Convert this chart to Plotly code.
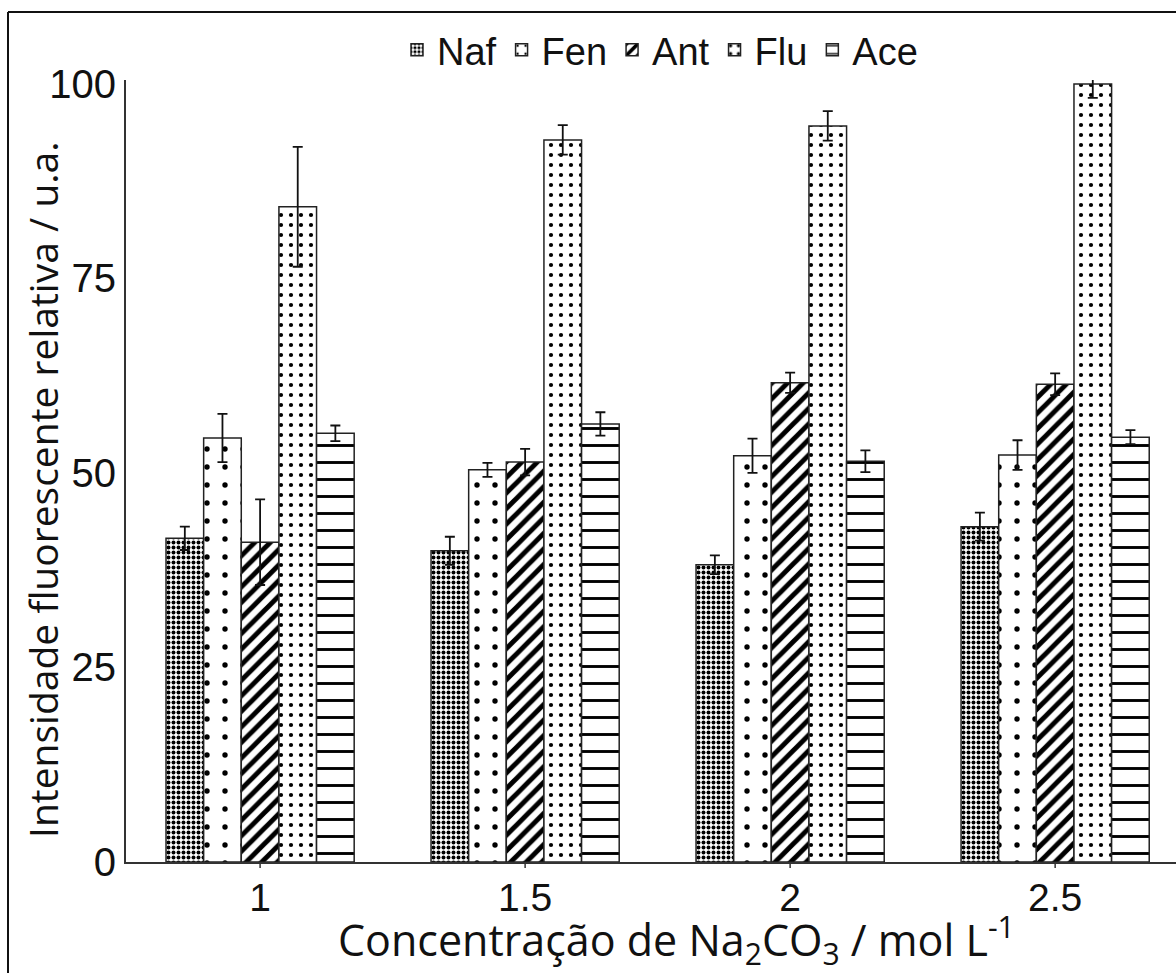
import plotly.graph_objects as go

concentracao = [1.0, 1.5, 2.0, 2.5]
tick_labels = ["1", "1.5", "2", "2.5"]
series_names = ["Naf", "Fen", "Ant", "Flu", "Ace"]

naf = [41.6, 40.0, 38.2, 43.1]
fen = [54.5, 50.4, 52.2, 52.3]
ant = [41.1, 51.4, 61.6, 61.4]
flu = [84.2, 92.8, 94.6, 100.0]
ace = [55.1, 56.3, 51.5, 54.6]

naf_err = [1.5, 1.8, 1.2, 1.8]
fen_err = [3.1, 0.9, 2.2, 1.9]
ant_err = [5.5, 1.7, 1.3, 1.4]
flu_err = [7.7, 1.9, 1.9, 1.8]
ace_err = [1.0, 1.5, 1.4, 0.9]

values = [naf, fen, ant, flu, ace]
errors = [naf_err, fen_err, ant_err, flu_err, ace_err]

patterns = [
    dict(shape=".", size=5, solidity=0.5),
    dict(shape=".", size=18, solidity=0.07),
    dict(shape="/", size=11, solidity=0.45),
    dict(shape=".", size=10, solidity=0.14),
    dict(shape="-", size=17, solidity=0.17),
]

fig = go.Figure()
for name, vals, errs, pat in zip(series_names, values, errors, patterns):
    pat = dict(pat, fgcolor="#000", bgcolor="white", fgopacity=1)
    fig.add_trace(go.Bar(
        x=concentracao, y=vals, name=name,
        marker=dict(color="white", pattern=pat,
                    line=dict(color="#222", width=1.5)),
        error_y=dict(type="data", array=errs, visible=True,
                     color="#111", thickness=1.8, width=5),
    ))

L, T, R, B = 126, 80, 0, 111
W, H = 1176, 973
pw, ph = W - L - R, H - T - B

def px_x(x):
    return (x - L) / pw

def px_y(y):
    return (H - B - y) / ph

shapes = [
    dict(type="line", xref="paper", yref="paper",
         x0=px_x(8), x1=px_x(8), y0=px_y(12), y1=px_y(973),
         line=dict(color="#111", width=2)),
    dict(type="line", xref="paper", yref="paper",
         x0=px_x(8), x1=1.0, y0=px_y(12), y1=px_y(12),
         line=dict(color="#111", width=2)),
]
# small outside tick marks at each category position
for c in concentracao:
    shapes.append(dict(type="line", xref="x", yref="paper",
                       x0=c, x1=c, y0=0, y1=-6 / ph,
                       line=dict(color="#333", width=1.5)))

fig.update_layout(
    width=W, height=H,
    margin=dict(l=L, r=R, t=T, b=B),
    paper_bgcolor="white", plot_bgcolor="white",
    barmode="group", bargap=0.29, bargroupgap=0,
    font=dict(family="Liberation Sans, Arial", color="#111"),
    legend=dict(orientation="h", x=px_x(660), xanchor="center",
                y=px_y(50), yanchor="middle",
                font=dict(size=38, family="Liberation Sans, Arial"),
                bgcolor="rgba(0,0,0,0)", itemwidth=30,
                tracegroupgap=0),
    showlegend=True,
    shapes=shapes,
    annotations=[
        dict(text="Concentração de Na<sub>2</sub>CO<sub>3</sub> / mol L<sup>-1</sup>",
             xref="paper", yref="paper", x=px_x(676), y=px_y(940),
             xanchor="center", yanchor="middle", showarrow=False,
             font=dict(size=43, family="Open Sans", color="#111")),
        dict(text="Intensidade fluorescente relativa / u.a.",
             xref="paper", yref="paper", x=px_x(42), y=px_y(490),
             xanchor="center", yanchor="middle", showarrow=False, textangle=-90,
             font=dict(size=39, family="Open Sans", color="#111")),
    ],
)

fig.update_xaxes(
    range=[0.747, 2.728], tickvals=concentracao, ticktext=tick_labels,
    showline=True, linecolor="#333", linewidth=2,
    ticks="", ticklen=0,
    showgrid=False, zeroline=False,
    tickfont=dict(size=39, family="Liberation Sans, Arial", color="#111"),
)
fig.update_yaxes(
    range=[0, 100.5], tickvals=[0, 25, 50, 75, 100],
    showline=True, linecolor="#333", linewidth=2,
    ticks="", showgrid=False, zeroline=False,
    tickfont=dict(size=40, family="Liberation Sans, Arial", color="#111"),
)

fig.write_html("out.html")
